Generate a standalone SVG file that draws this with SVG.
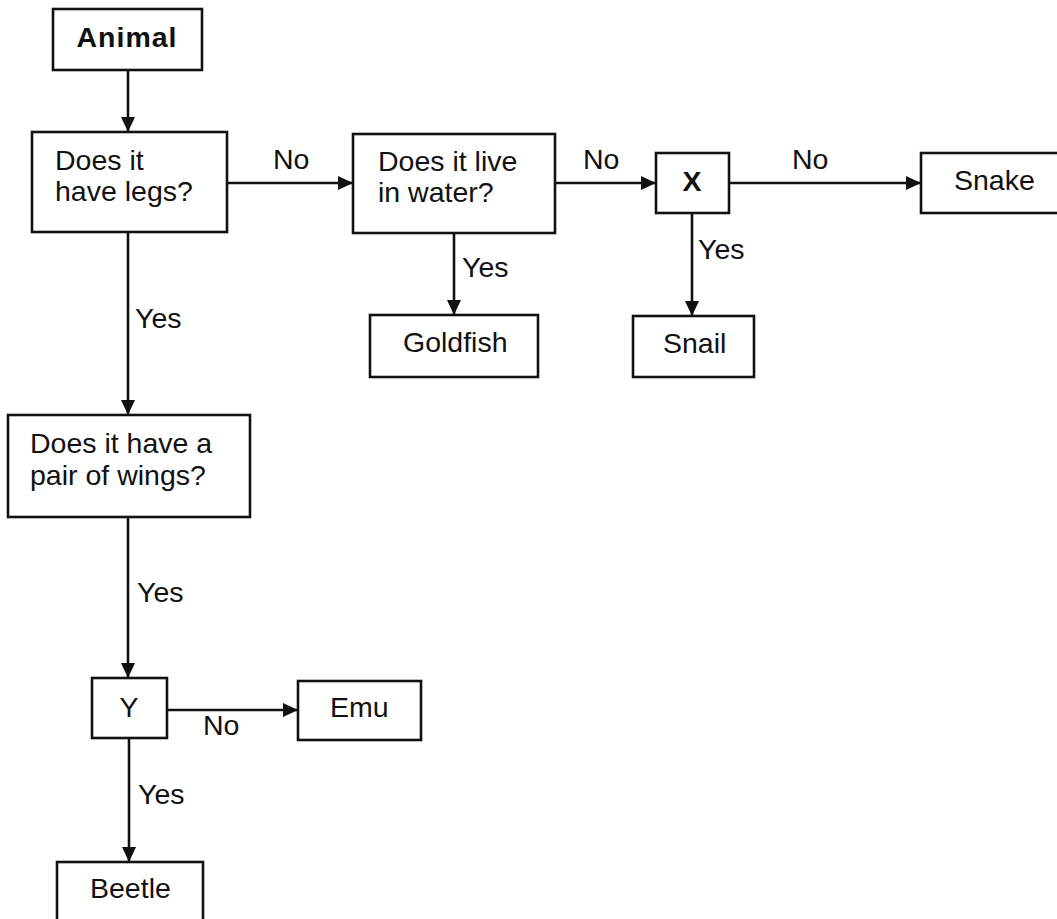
<svg xmlns="http://www.w3.org/2000/svg" width="1057" height="919" viewBox="0 0 1057 919">
<defs>
<marker id="arr" markerUnits="userSpaceOnUse" markerWidth="15" markerHeight="14" refX="15" refY="7" orient="auto">
<path d="M0,0 L15,7 L0,14 z" fill="#111"/>
</marker>
<style>
.box{fill:#fff;stroke:#111;stroke-width:2.6}
.t{font-family:"Liberation Sans",Arial,sans-serif;font-size:28.5px;fill:#111}
.b{font-weight:bold}
.c{stroke:#111;stroke-width:2.6;fill:none;marker-end:url(#arr)}
</style>
</defs>
<rect width="1057" height="919" fill="#fff"/>
<g id="connectors">
<line class="c" x1="128" y1="70" x2="128" y2="132"/>
<line class="c" x1="227" y1="183" x2="353" y2="183"/>
<line class="c" x1="555" y1="183" x2="656" y2="183"/>
<line class="c" x1="729" y1="183" x2="921" y2="183"/>
<line class="c" x1="454" y1="233" x2="454" y2="315"/>
<line class="c" x1="692" y1="213" x2="692" y2="316"/>
<line class="c" x1="128" y1="232" x2="128" y2="415"/>
<line class="c" x1="128" y1="517" x2="128" y2="678"/>
<line class="c" x1="167" y1="710" x2="298" y2="710"/>
<line class="c" x1="129" y1="738" x2="129" y2="862"/>
<text class="t" x="273" y="169">No</text>
<text class="t" x="583" y="169">No</text>
<text class="t" x="792" y="169">No</text>
<text class="t" x="462" y="277">Yes</text>
<text class="t" x="698" y="259">Yes</text>
<text class="t" x="135" y="328">Yes</text>
<text class="t" x="137" y="602">Yes</text>
<text class="t" x="203" y="735">No</text>
<text class="t" x="138" y="804">Yes</text>
</g>
<g id="animal">
<rect class="box" x="53" y="9" width="149" height="61"/>
<text class="t b" x="127" y="47" text-anchor="middle" letter-spacing="1">Animal</text>
</g>
<g id="legs">
<rect class="box" x="32" y="132" width="195" height="100"/>
<text class="t" x="55" y="170">Does it</text>
<text class="t" x="55" y="201">have legs?</text>
</g>
<g id="water">
<rect class="box" x="353" y="134" width="202" height="99"/>
<text class="t" x="378" y="171">Does it live</text>
<text class="t" x="378" y="202">in water?</text>
</g>
<g id="x">
<rect class="box" x="656" y="153" width="73" height="60"/>
<text class="t b" x="692" y="191" text-anchor="middle">X</text>
</g>
<g id="snake">
<rect class="box" x="921" y="153" width="150" height="60"/>
<text class="t" x="954" y="190">Snake</text>
</g>
<g id="goldfish">
<rect class="box" x="370" y="315" width="168" height="62"/>
<text class="t" x="403" y="352">Goldfish</text>
</g>
<g id="snail">
<rect class="box" x="633" y="316" width="121" height="61"/>
<text class="t" x="663" y="353">Snail</text>
</g>
<g id="wings">
<rect class="box" x="8" y="415" width="242" height="102"/>
<text class="t" x="30" y="453">Does it have a</text>
<text class="t" x="30" y="485">pair of wings?</text>
</g>
<g id="y">
<rect class="box" x="92" y="678" width="75" height="60"/>
<text class="t" x="129" y="717" text-anchor="middle">Y</text>
</g>
<g id="emu">
<rect class="box" x="298" y="681" width="123" height="59"/>
<text class="t" x="330" y="717">Emu</text>
</g>
<g id="beetle">
<rect class="box" x="57" y="862" width="146" height="80"/>
<text class="t" x="90" y="898">Beetle</text>
</g>
</svg>
